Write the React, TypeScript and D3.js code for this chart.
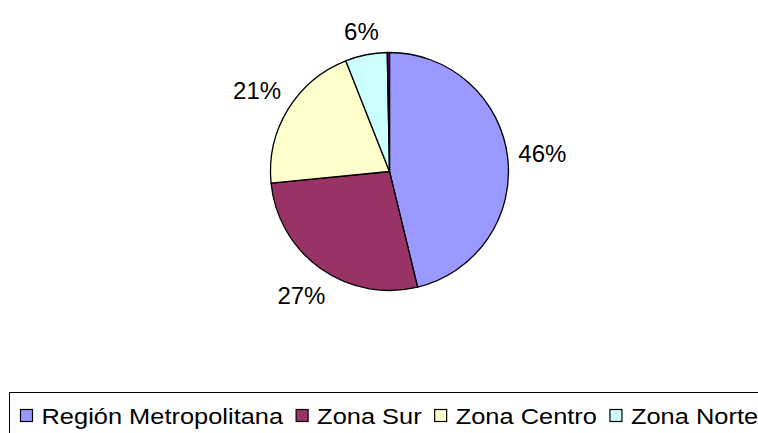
import { useEffect, useRef } from 'react';
import * as d3 from 'd3';

const categories = ['Región Metropolitana', 'Zona Sur', 'Zona Centro', 'Zona Norte', ''];
const values = [46.3, 27.3, 20.6, 5.7, 0.3];
const colors = ['#9999FF', '#993366', '#FFFFCC', '#CCFFFF', '#660066'];
const legendCount = 4;

const W = 758;
const H = 433;

export default function App() {
  const svgRef = useRef<SVGSVGElement | null>(null);

  useEffect(() => {
    if (!svgRef.current) return;
    const svg = d3.select(svgRef.current);
    svg.selectAll('*').remove();

    const cx = 389.5;
    const cy = 171.5;
    const r = 119;
    const font = 'Liberation Sans, Arial, sans-serif';

    const data = categories.map((c, i) => ({ name: c, value: values[i], color: colors[i] }));
    const total = d3.sum(values);

    const pie = d3.pie<{ name: string; value: number; color: string }>()
      .value(d => d.value)
      .sort(null);
    const arc = d3.arc<d3.PieArcDatum<{ name: string; value: number; color: string }>>()
      .innerRadius(0)
      .outerRadius(r);

    const arcs = pie(data);
    const g = svg.append('g').attr('transform', `translate(${cx},${cy})`);

    g.selectAll('path')
      .data(arcs)
      .enter()
      .append('path')
      .attr('d', arc)
      .attr('fill', d => d.data.color)
      .attr('stroke', '#000')
      .attr('stroke-width', 1.3)
      .attr('stroke-linejoin', 'round');

    // Labels outside the pie, box pushed out along the mid angle
    const fs = 24;
    arcs.forEach(d => {
      if (!d.data.name) return;
      const pct = Math.round((d.data.value / total) * 100) + '%';
      const mid = (d.startAngle + d.endAngle) / 2;
      const dx = Math.sin(mid);
      const dy = -Math.cos(mid);
      const w = pct.length * fs * 0.66;
      const h = fs * 0.95;
      const push = r + 10 + (w / 2) * Math.abs(dx) + (h / 2) * Math.abs(dy);
      g.append('text')
        .attr('x', dx * push)
        .attr('y', dy * push)
        .attr('dy', '0.36em')
        .attr('text-anchor', 'middle')
        .attr('font-family', font)
        .attr('font-size', fs)
        .attr('fill', '#000')
        .text(pct);
    });

    // Legend (box runs off the right and bottom edge)
    svg.append('rect')
      .attr('x', 9.5)
      .attr('y', 392.5)
      .attr('width', W + 20)
      .attr('height', 60)
      .attr('fill', '#fff')
      .attr('stroke', '#000')
      .attr('stroke-width', 1);

    const stretch = 1.13;
    let lx = 20.5;
    data.slice(0, legendCount).forEach(d => {
      svg.append('rect')
        .attr('x', lx)
        .attr('y', 409.5)
        .attr('width', 12)
        .attr('height', 12)
        .attr('fill', d.color)
        .attr('stroke', '#000')
        .attr('stroke-width', 1.2);
      const t = svg.append('text')
        .attr('transform', `translate(${lx + 21},424) scale(${stretch},1)`)
        .attr('font-family', font)
        .attr('font-size', 22.5)
        .attr('fill', '#000')
        .text(d.name);
      const tw = (t.node() as SVGTextElement).getComputedTextLength() * stretch;
      lx = lx + 21 + tw + 13;
    });
  }, []);

  return (
    <svg
      ref={svgRef}
      width={W}
      height={H}
      style={{ position: 'absolute', left: 0, top: 0, background: '#fff' }}
    />
  );
}
